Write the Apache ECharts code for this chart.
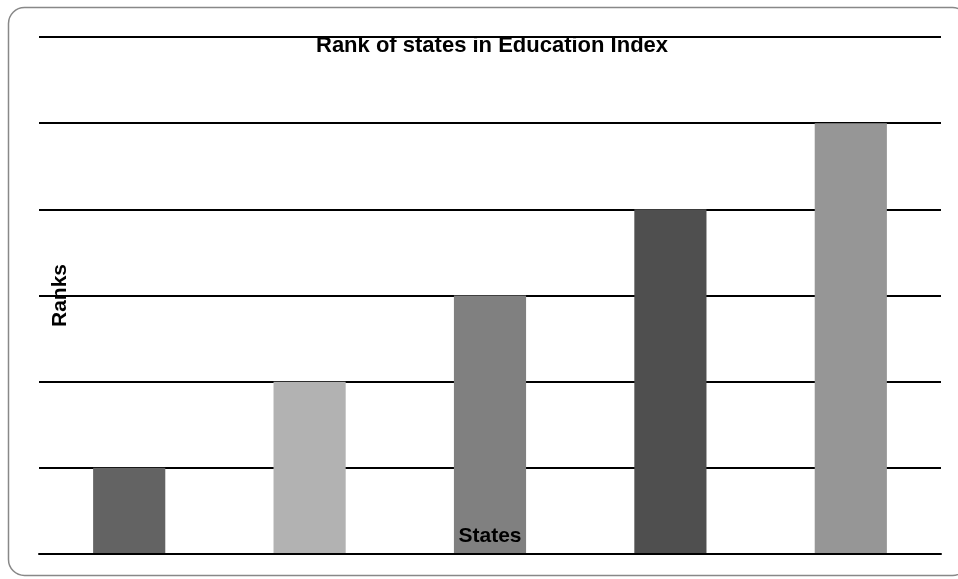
<!DOCTYPE html>
<html><head><meta charset="utf-8">
<script src="https://cdn.jsdelivr.net/npm/echarts@6/dist/echarts.min.js"></script>
<style>html,body{margin:0;padding:0;background:#fff}#c{width:958px;height:579px}</style>
</head><body><div id="c"></div>
<script>
const categories = ['State 1', 'State 2', 'State 3', 'State 4', 'State 5'];
const ranks = [1, 2, 3, 4, 5];
const barColors = ['#636363', '#b2b2b2', '#808080', '#4f4f4f', '#969696'];

const chart = echarts.init(document.getElementById('c'));
chart.setOption({
  animation: false,
  graphic: [{
    type: 'rect',
    shape: { x: 8.5, y: 7.5, width: 960, height: 568, r: 16 },
    style: { fill: 'none', stroke: '#888', lineWidth: 1.5 },
    z: -1
  }],
  title: {
    text: 'Rank of states in Education Index',
    left: 311, top: 30,
    textStyle: { fontFamily: 'Liberation Sans', fontWeight: 'bold', fontSize: 22, color: '#000' }
  },
  grid: { left: 39, right: 17, top: 37, bottom: 25, containLabel: false },
  xAxis: {
    type: 'category',
    data: categories,
    name: 'States',
    nameLocation: 'middle',
    nameGap: -28,
    nameTextStyle: { fontFamily: 'Liberation Sans', fontWeight: 'bold', fontSize: 21, color: '#000' },
    axisLine: { show: true, lineStyle: { color: '#000', width: 2 } },
    axisTick: { show: false },
    axisLabel: { show: false },
    z: 5
  },
  yAxis: {
    type: 'value',
    min: 0, max: 6, interval: 1,
    name: 'Ranks',
    nameLocation: 'middle',
    nameGap: -32,
    nameRotate: 90,
    nameTextStyle: { fontFamily: 'Liberation Sans', fontWeight: 'bold', fontSize: 21, color: '#000' },
    axisLine: { show: false },
    axisTick: { show: false },
    axisLabel: { show: false },
    splitLine: { show: true, lineStyle: { color: '#000', width: 2 } }
  },
  series: [{
    type: 'bar',
    data: ranks.map((v, i) => ({ value: v, itemStyle: { color: barColors[i] } })),
    barWidth: '40%',
    z: 2
  }]
});
</script></body></html>
